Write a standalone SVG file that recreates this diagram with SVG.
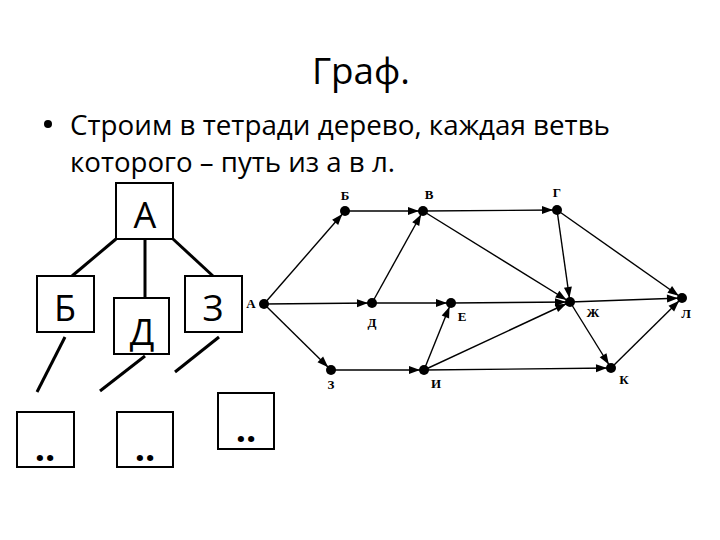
<svg xmlns="http://www.w3.org/2000/svg" width="720" height="540" viewBox="0 0 720 540">
<style>
.t{font-family:"Open Sans","Noto Sans","DejaVu Sans",sans-serif;fill:#000}
.box{fill:#fff;stroke:#000;stroke-width:2}
.tl{stroke:#000;stroke-width:3;stroke-linecap:butt}
.e{stroke:#000;stroke-width:1.4;fill:none;marker-end:url(#ah)}
.lb{font-family:"Liberation Serif","DejaVu Serif",serif;font-weight:bold;font-size:13px;fill:#000;text-anchor:middle}
.big{font-family:"Open Sans","Noto Sans","DejaVu Sans",sans-serif;font-size:36px;text-anchor:middle;fill:#000}
.dots{font-family:"Open Sans","Noto Sans","DejaVu Sans",sans-serif;font-size:36px;font-weight:bold;text-anchor:middle;fill:#000}
</style>
<defs>
<marker id="ah" markerUnits="userSpaceOnUse" markerWidth="20" markerHeight="10" refX="15" refY="4" orient="auto" overflow="visible">
<path d="M0,0 L11,4 L0,8 z" fill="#000"/>
</marker>
</defs>
<rect width="720" height="540" fill="#fff"/>
<text class="t" x="361" y="84" font-size="36" text-anchor="middle" textLength="98" lengthAdjust="spacingAndGlyphs">Граф.</text>
<circle cx="48" cy="124" r="4" fill="#000"/>
<text class="t" x="70" y="135" font-size="27" textLength="540" lengthAdjust="spacingAndGlyphs">Строим в тетради дерево, каждая ветвь</text>
<text class="t" x="70" y="172" font-size="27" textLength="325" lengthAdjust="spacingAndGlyphs">которого – путь из а в л.</text>

<g id="tree-lines">
<line class="tl" x1="116" y1="239" x2="72" y2="276"/>
<line class="tl" x1="145" y1="240" x2="145" y2="298"/>
<line class="tl" x1="173" y1="239" x2="213" y2="276"/>
<line class="tl" x1="65" y1="337" x2="37" y2="392"/>
<line class="tl" x1="145" y1="356" x2="100" y2="391"/>
<line class="tl" x1="219" y1="337" x2="175" y2="372"/>
</g>
<g id="tA"><rect class="box" x="116" y="183" width="57" height="56"/><text class="big" x="145" y="228">А</text></g>
<g id="tB"><rect class="box" x="37" y="276" width="57" height="56"/><text class="big" x="65" y="321">Б</text></g>
<g id="tD"><rect class="box" x="114" y="298" width="55" height="56"/><text class="big" x="142" y="345">Д</text></g>
<g id="tZ"><rect class="box" x="185" y="276" width="57" height="56"/><text class="big" x="213" y="321">З</text></g>
<g id="t1"><rect class="box" x="17" y="412" width="57" height="55"/><text class="dots" x="45" y="461">..</text></g>
<g id="t2"><rect class="box" x="117" y="412" width="56" height="55"/><text class="dots" x="145" y="461">..</text></g>
<g id="t3"><rect class="box" x="218" y="393" width="56" height="56"/><text class="dots" x="246" y="442">..</text></g>

<g id="edges">
<line class="e" x1="264" y1="304" x2="345" y2="211"/>
<line class="e" x1="264" y1="304" x2="372" y2="303"/>
<line class="e" x1="264" y1="304" x2="331" y2="370"/>
<line class="e" x1="345" y1="211" x2="423" y2="211"/>
<line class="e" x1="372" y1="303" x2="423" y2="211"/>
<line class="e" x1="372" y1="303" x2="451" y2="303"/>
<line class="e" x1="331" y1="370" x2="424" y2="370"/>
<line class="e" x1="424" y1="370" x2="451" y2="303"/>
<line class="e" x1="423" y1="211" x2="557" y2="210"/>
<line class="e" x1="423" y1="211" x2="570" y2="302"/>
<line class="e" x1="451" y1="303" x2="570" y2="302"/>
<line class="e" x1="424" y1="370" x2="570" y2="302"/>
<line class="e" x1="424" y1="370" x2="611" y2="368"/>
<line class="e" x1="557" y1="210" x2="570" y2="302"/>
<line class="e" x1="557" y1="210" x2="682" y2="298"/>
<line class="e" x1="570" y1="302" x2="682" y2="298"/>
<line class="e" x1="570" y1="302" x2="611" y2="368"/>
<line class="e" x1="611" y1="368" x2="682" y2="298"/>
</g>
<g id="nA"><circle cx="264" cy="304" r="5"/><text class="lb" x="251" y="308">А</text></g>
<g id="nB"><circle cx="345" cy="211" r="5"/><text class="lb" x="345" y="200">Б</text></g>
<g id="nV"><circle cx="423" cy="211" r="5"/><text class="lb" x="429" y="199">В</text></g>
<g id="nG"><circle cx="557" cy="210" r="5"/><text class="lb" x="557" y="197">Г</text></g>
<g id="nD"><circle cx="372" cy="303" r="5"/><text class="lb" x="372" y="327">Д</text></g>
<g id="nE"><circle cx="451" cy="303" r="5"/><text class="lb" x="462" y="321">Е</text></g>
<g id="nZh"><circle cx="570" cy="302" r="5"/><text class="lb" x="593" y="317">Ж</text></g>
<g id="nL"><circle cx="682" cy="298" r="5"/><text class="lb" x="686" y="318">Л</text></g>
<g id="nZ"><circle cx="331" cy="370" r="5"/><text class="lb" x="331" y="389">З</text></g>
<g id="nI"><circle cx="424" cy="370" r="5"/><text class="lb" x="436" y="388">И</text></g>
<g id="nK"><circle cx="611" cy="368" r="5"/><text class="lb" x="624" y="384">К</text></g>
</svg>
